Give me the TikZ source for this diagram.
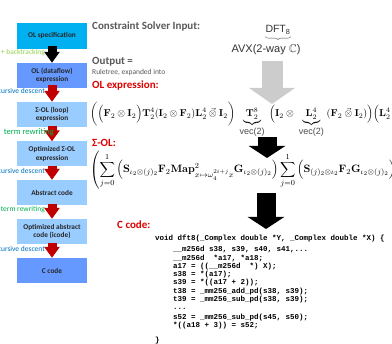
\documentclass[tikz,border=0pt]{standalone}
\usepackage{amsmath,amssymb,graphicx}
\usepackage[no-math]{fontspec}
\setmainfont{Carlito}
\newfontfamily\arialfont{Liberation Sans}
\newfontfamily\codefont{Liberation Mono}
\usetikzlibrary{arrows.meta,decorations.pathreplacing}

\definecolor{olcyan}{RGB}{0,176,240}
\definecolor{olblue}{RGB}{102,153,255}
\definecolor{ollight}{RGB}{153,204,255}
\definecolor{headgray}{RGB}{89,89,89}
\definecolor{headred}{RGB}{222,0,0}
\definecolor{stepred}{RGB}{192,0,0}
\definecolor{arrowgray}{RGB}{204,204,204}
\definecolor{btgreen}{RGB}{146,208,80}
\definecolor{trgreen}{RGB}{0,176,80}
\definecolor{rdblue}{RGB}{0,112,192}

\newcommand\ind{\hspace*{18pt}}
\newcommand\vectag{\hbox{\arialfont\fontsize{9}{9}\selectfont\color{black!70}vec(2)}}
\newcommand\vo{\mathbin{\vec{\otimes}}}

\begin{document}
\begin{tikzpicture}[x=1pt, y=-1pt,
    stage/.style={minimum width=70pt, minimum height=25pt, inner sep=1pt,
                  align=center, text=black!85,
                  font=\bfseries\fontsize{7.3}{8.5}\selectfont},
    steplabel/.style={anchor=east, inner sep=0pt, font=\fontsize{7.5}{8}\selectfont},
    stepdown/.style={line width=9pt, -{Triangle[width=15pt,length=11pt]}},
    heading/.style={anchor=west, inner sep=0pt, font=\bfseries\fontsize{11}{13}\selectfont},
    bigdown/.style={line width=19pt, -{Triangle[width=36pt,length=12pt]}}]
  \useasboundingbox (0,0) rectangle (392,344);

  % tool flow
  \node[stage, fill=olcyan, minimum height=26pt] (spec) at (52,36) {OL specification};
  \node[stage, fill=olblue]   (ol)       at (52,75.5)  {OL (dataflow)\\expression};
  \node[stage, fill=ollight]  (sigma)    at (52,114.5) {Σ-OL (loop)\\expression};
  \node[stage, fill=ollight]  (optsigma) at (52,154)   {Optimized Σ-OL\\expression};
  \node[stage, fill=ollight]  (abstract) at (52,192.5) {Abstract code};
  \node[stage, fill=ollight]  (icode)    at (52,231.5) {Optimized abstract\\code (icode)};
  \node[stage, fill=olblue]   (ccode)    at (52,270.5) {C code};

  \draw[stepdown, black]   ([yshift=3pt]spec.south)     -- (ol.north);
  \draw[stepdown, stepred] ([yshift=3pt]ol.south)       -- (sigma.north);
  \draw[stepdown, stepred] ([yshift=1pt]sigma.south)    -- (optsigma.north);
  \draw[stepdown, stepred] ([yshift=1pt]optsigma.south) -- (abstract.north);
  \draw[stepdown, stepred] ([yshift=1pt]abstract.south) -- (icode.north);
  \draw[stepdown, stepred] ([yshift=1pt]icode.south)    -- (ccode.north);

  \node[steplabel, text=btgreen] (bt)  at (45,53)  {+ backtracking};
  \node[steplabel, text=rdblue]  (rd1) at (45,91)  {recursive descent};
  \node[steplabel, text=trgreen, font=\fontsize{8.5}{9}\selectfont] (tr1) at (54,132) {term rewriting};
  \node[steplabel, text=rdblue]  (rd2) at (45,171) {recursive descent};
  \node[steplabel, text=trgreen] (tr2) at (45,210) {term rewriting};
  \node[steplabel, text=rdblue]  (rd3) at (45,249) {recursive descent};

  % headings
  \node[heading, text=headgray] (input)  at (92,27) {Constraint Solver Input:};
  \node[heading, text=headgray] (output) at (92,62) {Output =};
  \node[anchor=west, inner sep=0pt, text=headgray, font=\fontsize{7.5}{8}\selectfont]
       (ruletree) at (92,73) {Ruletree, expanded into};
  \node[heading, text=headred] (olhead)    at (92,86)  {OL expression:};
  \node[heading, text=headred] (sigmahead) at (92,143) {Σ-OL:};
  \node[heading, text=headred] (chead)     at (117,225) {C code:};

  % problem
  \node[inner sep=0pt, text=black!80, font=\arialfont\fontsize{10.5}{12}\selectfont]
       (dft) at (278,30) {DFT\textsubscript{8}};
  \draw[black!70, decorate, decoration={brace, mirror, amplitude=3pt}]
       ([yshift=-2pt]dft.south west) -- ([yshift=-2pt]dft.south east);
  \node[inner sep=0pt, text=black!80, font=\arialfont\fontsize{11}{12}\selectfont]
       (avx) at (266,50) {AVX(2-way $\mathbb{C}$)};

  % formulas
  \node[anchor=west, inner sep=0pt] (olexpr) at (90,120) {$\displaystyle
    \bigg(\Big(\mathbf{F}_2\otimes\mathbf{I}_2\Big)\mathbf{T}^4_2(\mathbf{I}_2\otimes\mathbf{F}_2)\mathbf{L}^4_2\vo\mathbf{I}_2\bigg)\;
    \underbrace{\mathbf{T}^8_2}_{\vectag}\;
    \Big(\mathbf{I}_2\otimes\;\underbrace{\mathbf{L}^4_2}_{\vectag}\;(\mathbf{F}_2\vo\mathbf{I}_2)\Big)
    \Big(\mathbf{L}^4_2\vo\mathbf{I}_2\Big)$};
  \node[anchor=west, inner sep=0pt, font=\fontsize{10.95}{13}\selectfont] (sigmaexpr) at (90,170) {\scalebox{0.975}{$\displaystyle
    \left(\sum_{j=0}^{1}\Big(\mathbf{S}_{\iota_2\otimes(j)_2}\mathbf{F}_2\mathbf{Map}^2_{x\mapsto\omega_4^{2i+j}x}\mathbf{G}_{\iota_2\otimes(j)_2}\Big)
    \sum_{j=0}^{1}\Big(\mathbf{S}_{(j)_2\otimes\iota_2}\mathbf{F}_2\mathbf{G}_{\iota_2\otimes(j)_2}\Big)\right)$}};

  \coordinate (olin)      at (272,104);
  \coordinate (sigmatop)  at (267,158);
  \coordinate (codetop)   at (266,229);
  \draw[bigdown, arrowgray, line width=21pt, -{Triangle[width=45pt,length=16pt]}]
       ([yshift=-6pt]avx.south -| olin) -- (olin);
  \draw[bigdown] ([yshift=1pt]olexpr.south -| sigmatop) -- (sigmatop);
  \draw[bigdown] ([yshift=-4pt]sigmaexpr.south -| codetop) -- (codetop);

  % generated code
  \node[anchor=north west, inner sep=0pt, align=left,
        font=\codefont\bfseries\fontsize{7.5}{8.5}\selectfont] (code) at (155,235) {%
    void dft8(\_Complex double *Y, \_Complex double *X) \{\\[2.5pt]
    \ind\_\_m256d s38, s39, s40, s41,...\\
    \ind\_\_m256d \ *a17, *a18;\\
    \ind a17 = ((\_\_m256d \ *) X);\\[-0.5pt]
    \ind s38 = *(a17);\\[-0.5pt]
    \ind s39 = *((a17 + 2));\\
    \ind t38 = \_mm256\_add\_pd(s38, s39);\\[-0.5pt]
    \ind t39 = \_mm256\_sub\_pd(s38, s39);\\
    \ind ...\\[1.5pt]
    \ind s52 = \_mm256\_sub\_pd(s45, s50);\\[-0.5pt]
    \ind *((a18 + 3)) = s52;\\[6.5pt]
    \}};
\end{tikzpicture}
\end{document}
